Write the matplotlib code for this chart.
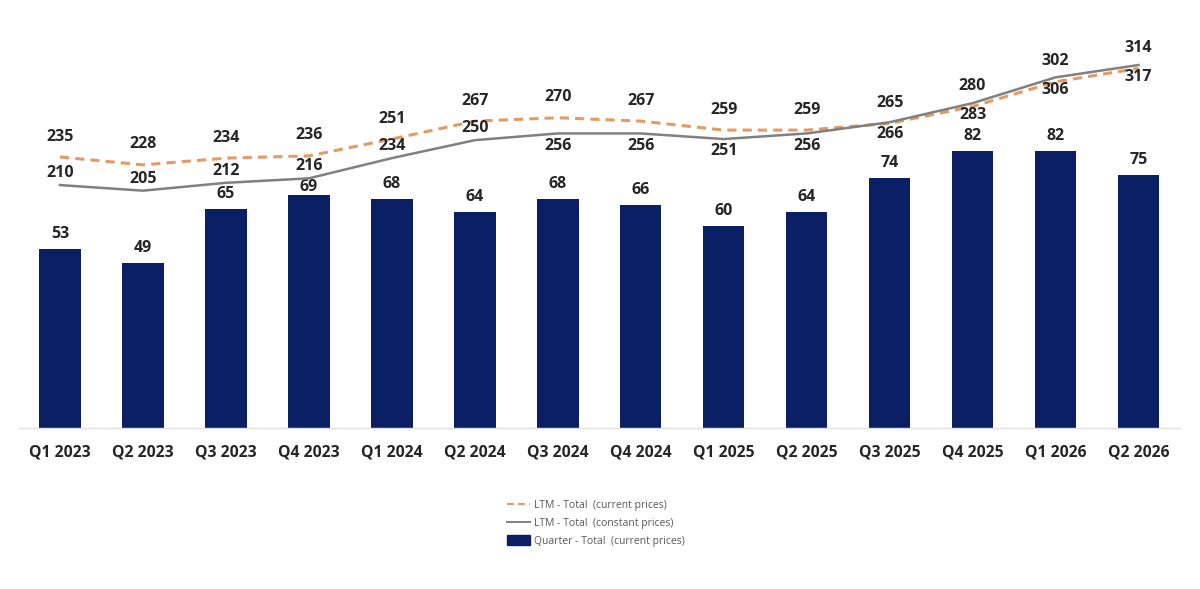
import matplotlib
matplotlib.use("Agg")
import matplotlib.pyplot as plt
from matplotlib.lines import Line2D
from matplotlib.patches import Patch

categories = ["Q1 2023", "Q2 2023", "Q3 2023", "Q4 2023", "Q1 2024", "Q2 2024", "Q3 2024",
              "Q4 2024", "Q1 2025", "Q2 2025", "Q3 2025", "Q4 2025", "Q1 2026", "Q2 2026"]
quarter_current = [53, 49, 65, 69, 68, 64, 68, 66, 60, 64, 74, 82, 82, 75]
ltm_current = [235, 228, 234, 236, 251, 267, 270, 267, 259, 259, 265, 280, 302, 314]
ltm_constant = [210, 205, 212, 216, 234, 250, 256, 256, 251, 256, 266, 283, 306, 317]

# label placement style: constant-price labels above the line for the first points, below later
const_label_above = [True] * 6 + [False] * 8
# bar label gap (points) above each bar
bar_label_gap = [5, 5, 5, 0, 5, 5, 5, 5, 5, 5, 5, 5, 5, 5]

NAVY = "#0B1F65"
ORANGE = "#E59A62"
GREY = "#808080"
TXT = "#262626"
FONT = "Open Sans"

plt.rcParams['font.family'] = [FONT, 'DejaVu Sans']

fig = plt.figure(figsize=(12, 5.89), dpi=100)
ax = fig.add_axes([18.5 / 1200, 1 - 428 / 589, (1180 - 18.5) / 1200, 408 / 589])
ax2 = ax.twinx()

x = list(range(len(categories)))
ax.bar(x, quarter_current, width=0.5, color=NAVY, zorder=2)
ax.set_ylim(0, 120.9)
ax.set_xlim(-0.5, len(categories) - 0.5)

LBL = 11.5
for xi, v, g in zip(x, quarter_current, bar_label_gap):
    ax.annotate(str(v), (xi, v), xytext=(0, g), textcoords="offset points",
                ha="center", va="bottom", fontsize=LBL, fontweight="bold", color=TXT)

ax2.plot(x, ltm_current, color=ORANGE, lw=2.2, ls=(0, (3.0, 2.0)), zorder=3)
ax2.plot(x, ltm_constant, color=GREY, lw=1.8, zorder=4)
ax2.set_ylim(-6.5, 357.1)

for xi, v in zip(x, ltm_current):
    ax2.annotate(str(v), (xi, v), xytext=(0, 9), textcoords="offset points",
                 ha="center", va="bottom", fontsize=LBL, fontweight="bold", color=TXT)
for xi, v, above in zip(x, ltm_constant, const_label_above):
    if above:
        ax2.annotate(str(v), (xi, v), xytext=(0, 3), textcoords="offset points",
                     ha="center", va="bottom", fontsize=LBL, fontweight="bold", color=TXT)
    else:
        ax2.annotate(str(v), (xi, v), xytext=(0, -3), textcoords="offset points",
                     ha="center", va="top", fontsize=LBL, fontweight="bold", color=TXT)

for a in (ax, ax2):
    for s in ("top", "right", "left"):
        a.spines[s].set_visible(False)
    a.set_yticks([])
ax2.spines["bottom"].set_visible(False)
ax.spines["bottom"].set_color("#E0E0E0")
ax.spines["bottom"].set_linewidth(1.0)
ax.set_xticks(x)
ax.set_xticklabels(categories, fontsize=11.3, fontweight="bold", color=TXT)
ax.tick_params(axis="x", length=0, pad=12)

handles = [
    Line2D([0], [0], color=ORANGE, lw=1.6, ls=(0, (3, 2))),
    Line2D([0], [0], color=GREY, lw=1.4),
    Patch(facecolor=NAVY, edgecolor=NAVY),
]
labels = ["LTM - Total  (current prices)", "LTM - Total  (constant prices)",
          "Quarter - Total  (current prices)"]
leg = fig.legend(handles, labels, loc="upper left", bbox_to_anchor=(498 / 1200, 1 - 490 / 589),
                 frameon=False, fontsize=7.5, handlelength=2.2, handleheight=1.1,
                 labelspacing=0.62, handletextpad=0.4)
for t in leg.get_texts():
    t.set_color("#595959")

fig.savefig("out.png", dpi=100)
